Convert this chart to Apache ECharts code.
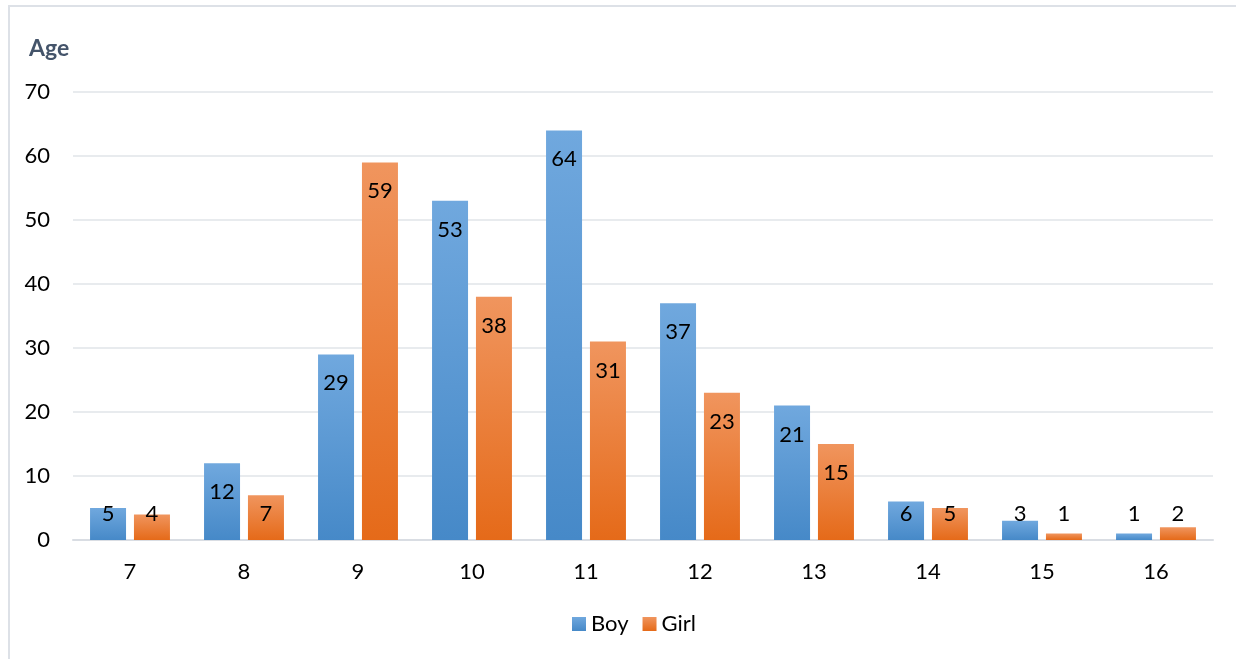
<!DOCTYPE html>
<html><head><meta charset="utf-8">
<script src="https://cdn.jsdelivr.net/npm/echarts@6/dist/echarts.min.js"></script>
<style>html,body{margin:0;padding:0;background:#fff}#c{width:1236px;height:659px}</style>
</head><body><div id="c"></div>
<script>
const categories = ['7','8','9','10','11','12','13','14','15','16'];
const boy = [5,12,29,53,64,37,21,6,3,1];
const girl = [4,7,59,38,31,23,15,5,1,2];
const yTicks = {min:0, max:70, interval:10};

const chart = echarts.init(document.getElementById('c'));
const FONT = 'Lato';
function grad(top, bottom){
  return new echarts.graphic.LinearGradient(0,0,0,1,[{offset:0,color:top},{offset:1,color:bottom}]);
}
const labelCfg = {show:true, position:'insideTop', color:'#000', fontFamily:FONT, fontSize:22};
function layout(p){
  const r = p.rect;
  return {x: r.x + r.width/2, y: Math.min(r.y + 29, r.y + r.height - 26), align:'center', verticalAlign:'middle'};
}
chart.setOption({
  animation:false,
  textStyle:{fontFamily:FONT},
  graphic:[{type:'rect', shape:{x:9, y:6, width:1240, height:700}, style:{fill:'none', stroke:'#dde1e7', lineWidth:2}, z:-1},
           {type:'text', left:29, top:37, style:{text:'Age', fontFamily:FONT, fontSize:23, fontWeight:'bold', fill:'#44546a'}}],
  grid:{left:73, right:23, top:92, bottom:119, containLabel:false},
  legend:{bottom:19, left:567, itemWidth:14, itemHeight:14, itemGap:14, icon:'rect',
    textStyle:{fontFamily:FONT, fontSize:22, color:'#000'}, data:['Boy','Girl']},
  xAxis:{type:'category', data:categories, axisTick:{show:false},
    axisLine:{lineStyle:{color:'#d9dde3', width:2}},
    axisLabel:{color:'#000', fontSize:22, fontFamily:FONT, margin:21}},
  yAxis:{type:'value', min:yTicks.min, max:yTicks.max, interval:yTicks.interval,
    axisLine:{show:false}, axisTick:{show:false},
    splitLine:{lineStyle:{color:'#e1e4e9', width:1.5}},
    axisLabel:{color:'#000', fontSize:22, fontFamily:FONT, margin:23}},
  series:[
    {name:'Boy', type:'bar', data:boy, barWidth:36, barGap:'22%',
     itemStyle:{color:grad('#70a8de','#4689c8')}, label:labelCfg, labelLayout:layout},
    {name:'Girl', type:'bar', data:girl, barWidth:36,
     itemStyle:{color:grad('#f0955e','#e56a19')}, label:labelCfg, labelLayout:layout}
  ]
});
</script></body></html>
